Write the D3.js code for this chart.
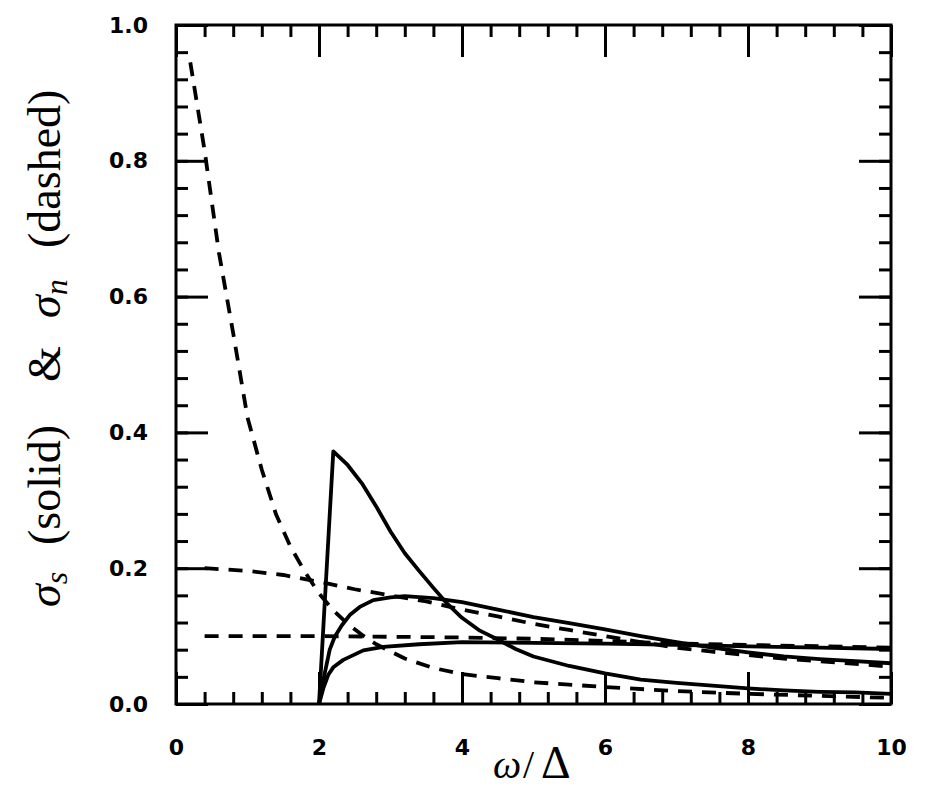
<!DOCTYPE html>
<html>
<head>
<meta charset="utf-8">
<title>sigma_s and sigma_n</title>
<script src="https://cdn.jsdelivr.net/npm/d3@7"></script>
<style>
body { margin: 0; background: #fff; }
.tick text { font-family: "DejaVu Sans"; font-weight: bold; font-size: 22px; fill: #000; }
.tick line { stroke: #000; stroke-width: 3px; }
.domain { display: none; }
.lbl { font-family: "Liberation Serif"; fill: #000; }
</style>
</head>
<body>
<svg id="chart" width="932" height="792"></svg>
<script>

// [omega/Delta, sigma]
// normal state, dashed
var dash1 = [[0.2,0.945],[0.4,0.815],[0.6,0.665],[0.8,0.546],[1.0,0.422],[1.2,0.345],[1.4,0.279],[1.6,0.232],
             [1.8,0.195],[2.0,0.163],[2.2,0.138],[2.4,0.118],[2.6,0.102],[2.8,0.088],[3.2,0.067],[3.6,0.053],
             [4.0,0.044],[4.5,0.038],[5.0,0.032],[6.0,0.025],[7.0,0.019],[8.0,0.015],[9.0,0.012],[10,0.009]];
var dash2 = [[0.4,0.200],[1.0,0.196],[1.5,0.190],[2.0,0.180],[2.5,0.169],[3.0,0.160],[3.5,0.151],[4.0,0.139],
             [4.5,0.129],[5.0,0.118],[5.5,0.109],[6.0,0.100],[6.5,0.091],[7.0,0.083],[7.5,0.077],[8.0,0.072],
             [8.5,0.067],[9.0,0.063],[9.5,0.059],[10,0.055]];
var dash3 = [[0.4,0.100],[1.0,0.100],[2.0,0.100],[3.0,0.099],[4.0,0.098],[5.0,0.096],[6.0,0.093],[7.0,0.089],
             [8.0,0.087],[9.0,0.085],[10,0.083]];

// superconducting state, solid
var solid1 = [[2.0,0],[2.2,0.372],[2.4,0.352],[2.6,0.325],[2.8,0.291],[3.0,0.254],[3.2,0.222],[3.4,0.196],
              [3.6,0.171],[3.8,0.147],[4.0,0.127],[4.25,0.108],[4.5,0.095],[4.75,0.081],[5.0,0.070],[5.5,0.056],
              [6.0,0.045],[6.5,0.036],[7.0,0.031],[7.5,0.027],[8.0,0.023],[8.5,0.020],[9.0,0.018],[9.5,0.017],[10,0.015]];
var solid2 = [[2.0,0],[2.08,0.045],[2.15,0.080],[2.22,0.099],[2.32,0.116],[2.43,0.131],[2.57,0.143],[2.76,0.153],
              [3.0,0.157],[3.2,0.159],[3.6,0.156],[4.0,0.150],[4.5,0.139],[5.0,0.128],[5.5,0.119],[6.0,0.110],
              [6.5,0.100],[7.0,0.091],[7.5,0.083],[8.0,0.076],[8.5,0.070],[9.0,0.066],[9.5,0.063],[10,0.060]];
var solid3 = [[2.0,0],[2.06,0.023],[2.13,0.043],[2.2,0.054],[2.34,0.065],[2.62,0.079],[2.9,0.084],[3.4,0.088],
              [4.0,0.091],[5.0,0.090],[6.0,0.089],[7.0,0.087],[8.0,0.085],[9.0,0.083],[10,0.081]];

var xMajor = [0, 2, 4, 6, 8, 10];
var yMajor = [0, 0.2, 0.4, 0.6, 0.8, 1.0];

var margin = {top: 25, right: 41, bottom: 88, left: 176},
    width = 932 - margin.left - margin.right,
    height = 792 - margin.top - margin.bottom;

var svg = d3.select("#chart");
svg.append("rect").attr("width", 932).attr("height", 792).attr("fill", "#fff");

var g = svg.append("g").attr("transform", "translate(" + margin.left + "," + margin.top + ")");

var x = d3.scaleLinear().domain([0, 10]).range([0, width]);
var y = d3.scaleLinear().domain([0, 1]).range([height, 0]);

var xMinor = d3.range(0, 26).map(function(i) { return i * 0.4; });
var yMinor = d3.range(0, 26).map(function(i) { return i * 0.04; });

// minor ticks, all four sides, pointing in
g.append("g").attr("transform", "translate(0," + height + ")")
  .call(d3.axisBottom(x).tickValues(xMinor).tickSize(-12).tickSizeOuter(0).tickFormat(""));
g.append("g").call(d3.axisTop(x).tickValues(xMinor).tickSize(-12).tickSizeOuter(0).tickFormat(""));
g.append("g").call(d3.axisLeft(y).tickValues(yMinor).tickSize(-12).tickSizeOuter(0).tickFormat(""));
g.append("g").attr("transform", "translate(" + width + ",0)")
  .call(d3.axisRight(y).tickValues(yMinor).tickSize(-12).tickSizeOuter(0).tickFormat(""));

// major ticks with labels
g.append("g").attr("transform", "translate(0," + height + ")")
  .call(d3.axisBottom(x).tickValues(xMajor).tickSize(-32).tickSizeOuter(0).tickPadding(35).tickFormat(d3.format("d")));
g.append("g").call(d3.axisTop(x).tickValues(xMajor).tickSize(-32).tickSizeOuter(0).tickFormat(""));
g.append("g")
  .call(d3.axisLeft(y).tickValues(yMajor).tickSize(-32).tickSizeOuter(0).tickPadding(28).tickFormat(d3.format(".1f")));
g.append("g").attr("transform", "translate(" + width + ",0)")
  .call(d3.axisRight(y).tickValues(yMajor).tickSize(-32).tickSizeOuter(0).tickFormat(""));

g.append("clipPath").attr("id", "clip").append("rect").attr("width", width).attr("height", height);

var line = d3.line().x(function(d) { return x(d[0]); }).y(function(d) { return y(d[1]); });

var curves = g.append("g").attr("clip-path", "url(#clip)");

[dash1, dash2, dash3].forEach(function(s) {
  curves.append("path").datum(s).attr("d", line)
    .attr("fill", "none").attr("stroke", "#000").attr("stroke-width", 3.8)
    .attr("stroke-dasharray", "14,10").attr("stroke-linejoin", "round");
});

[solid1, solid2, solid3].forEach(function(s) {
  curves.append("path").datum(s).attr("d", line)
    .attr("fill", "none").attr("stroke", "#000").attr("stroke-width", 3.8)
    .attr("stroke-linejoin", "round");
});

// frame
g.append("rect").attr("width", width).attr("height", height)
  .attr("fill", "none").attr("stroke", "#000").attr("stroke-width", 3);

// x label
var xl = svg.append("text").attr("class", "lbl").attr("y", 778).style("font-size", "40px");
xl.append("tspan").attr("x", 493).style("font-style", "italic").text("ω");
xl.append("tspan").attr("x", 523).text("/");
xl.append("tspan").attr("x", 541).style("font-size", "46px").text("Δ");

// y label
var yl = svg.append("text").attr("class", "lbl").attr("transform", "rotate(-90)")
  .attr("y", 60).style("font-size", "46px");
yl.append("tspan").attr("x", -607).style("font-style", "italic").text("σ");
yl.append("tspan").attr("dy", 7).style("font-style", "italic").style("font-size", "32px").text("s");
yl.append("tspan").attr("x", -545).attr("y", 60).text("(solid)");
yl.append("tspan").attr("x", -382).text("&");
yl.append("tspan").attr("x", -318).style("font-style", "italic").text("σ");
yl.append("tspan").attr("dy", 7).style("font-style", "italic").style("font-size", "32px").text("n");
yl.append("tspan").attr("x", -248).attr("y", 60).text("(dashed)");

</script>
</body>
</html>
